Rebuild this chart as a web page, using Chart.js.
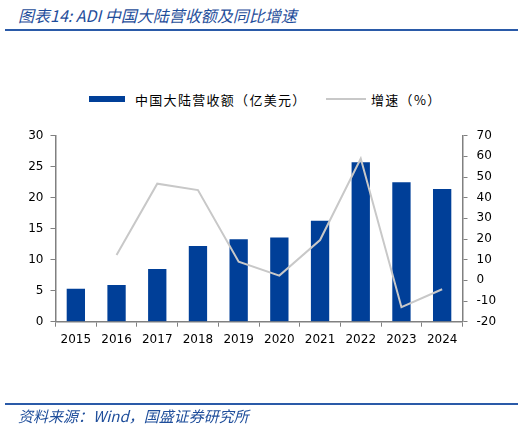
<!DOCTYPE html>
<html>
<head>
<meta charset="utf-8">
<script src="https://cdn.jsdelivr.net/npm/chart.js@4.4.1/dist/chart.umd.min.js"></script>
<style>
  html, body { margin: 0; padding: 0; background: #fff; }
  body { width: 525px; height: 428px; position: relative; overflow: hidden; font-family: "Noto Sans CJK SC", sans-serif; }
  #chart { position: absolute; left: 0; top: 0; }
  .title { position: absolute; left: 18px; top: 3px; font-size: 16px; font-style: italic; color: #1f4e9b; white-space: nowrap; }
  .rule { position: absolute; left: 5px; width: 513px; height: 2px; background: #2a5aa8; }
  .source { position: absolute; left: 18px; top: 405px; font-size: 15px; font-style: italic; color: #1f4e9b; white-space: nowrap; }
  .legend { position: absolute; top: 90px; font-size: 13px; letter-spacing: 1.3px; color: #000; white-space: nowrap; }
  .swatch { position: absolute; }
</style>
</head>
<body>
<div class="title">图表14: ADI 中国大陆营收额及同比增速</div>
<div class="rule" style="top:29px"></div>

<div class="swatch" style="left:89px; top:96px; width:36px; height:6px; background:#003f98"></div>
<div class="legend" style="left:135px">中国大陆营收额（亿美元）</div>
<div class="swatch" style="left:326px; top:98px; width:40px; height:2px; background:#c8c8c8"></div>
<div class="legend" style="left:371px">增速（%）</div>

<canvas id="chart" width="525" height="428"></canvas>

<div class="rule" style="top:403px"></div>
<div class="source">资料来源：Wind，国盛证券研究所</div>

<script>
// 数据
const anos = ['2015', '2016', '2017', '2018', '2019', '2020', '2021', '2022', '2023', '2024'];
const receita = [5.3, 5.9, 8.5, 12.2, 13.3, 13.6, 16.3, 25.7, 22.5, 21.4];   // 亿美元
const crescimento = [null, 12.3, 46.8, 43.7, 9.0, 2.3, 19.5, 59.0, -13.0, -4.3]; // %
const ticksEsq = { min: 0, max: 30, step: 5 };
const ticksDir = { min: -20, max: 70, step: 10 };

const corEixo = '#808080';
const fonteTick = { family: 'DejaVu Sans', size: 12 };

function eixoY(lim, pos, largura, pad) {
  return {
    type: 'linear',
    position: pos,
    min: lim.min,
    max: lim.max,
    grid: { drawOnChartArea: false, tickLength: 5, color: corEixo, lineWidth: 1 },
    border: { color: corEixo, width: 1.5 },
    ticks: { stepSize: lim.step, color: '#000', font: fonteTick, padding: pad },
    afterFit: s => { s.width = largura; }
  };
}

new Chart(document.getElementById('chart'), {
  data: {
    labels: anos,
    datasets: [
      {
        type: 'line',
        label: '增速（%）',
        data: crescimento,
        yAxisID: 'y1',
        borderColor: '#c8c8c8',
        borderWidth: 2,
        pointRadius: 0,
        tension: 0,
        order: 0
      },
      {
        type: 'bar',
        label: '中国大陆营收额（亿美元）',
        data: receita,
        yAxisID: 'y',
        backgroundColor: '#003f98',
        categoryPercentage: 1,
        barPercentage: 0.45,
        order: 1
      }
    ]
  },
  options: {
    responsive: false,
    animation: false,
    layout: { padding: { top: 135.7, bottom: 76.3, left: 0, right: 0 } },
    plugins: { legend: { display: false }, tooltip: { enabled: false } },
    scales: {
      x: {
        offset: true,
        grid: { offset: true, drawOnChartArea: false, tickLength: 5, color: corEixo },
        border: { color: corEixo, width: 1.5 },
        ticks: { color: '#000', font: fonteTick, padding: 6, maxRotation: 0 },
        afterFit: s => { s.height = 30; }
      },
      y: eixoY(ticksEsq, 'left', 55.5, 7),
      y1: eixoY(ticksDir, 'right', 62.5, 9)
    }
  }
});
</script>
</body>
</html>
